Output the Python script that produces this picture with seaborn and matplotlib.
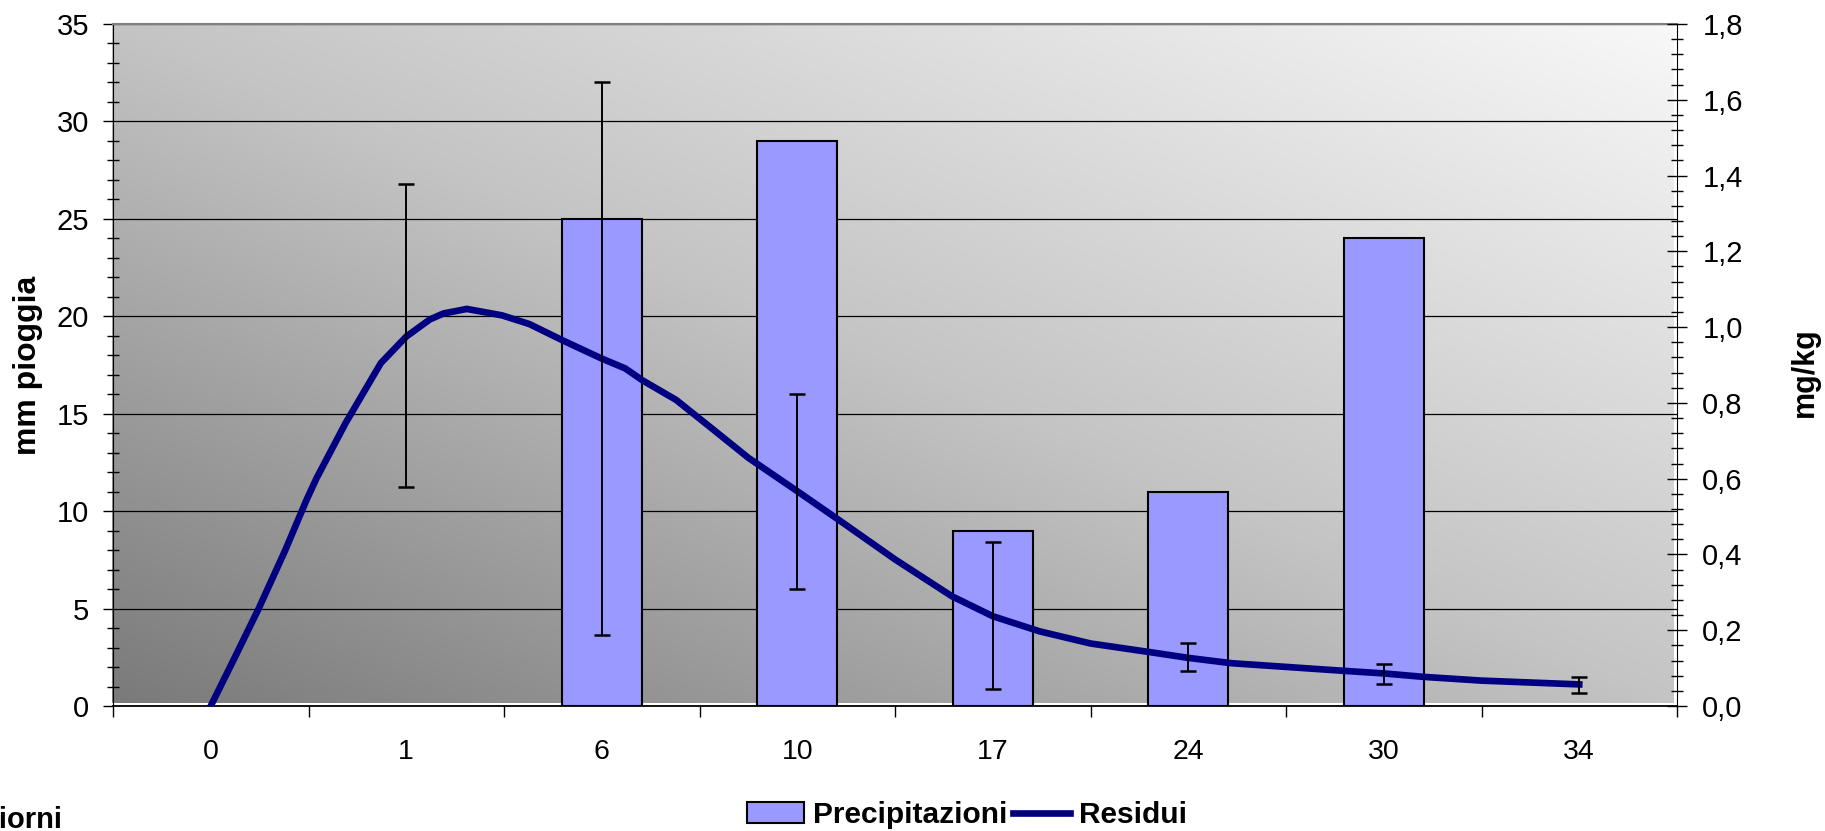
import numpy as np
import pandas as pd
import matplotlib
matplotlib.use('Agg')
import matplotlib.pyplot as plt
from matplotlib.ticker import MultipleLocator, FuncFormatter
from matplotlib.lines import Line2D
from matplotlib.patches import Patch
import seaborn as sns

# Categorie asse x (giorni)
giorni = ['0', '1', '6', '10', '17', '24', '30', '34']

# Precipitazioni (mm), solo nei giorni con pioggia
giorni_pioggia = ['6', '10', '17', '24', '30']
mm_pioggia = [25, 29, 9, 11, 24]

# Residui: curva (posizione sulla scala delle categorie, mg/kg)
res_pos = [0.0, 0.12, 0.245, 0.38, 0.49, 0.54, 0.69, 0.87, 1.0, 1.12, 1.19, 1.31,
           1.49, 1.63, 1.80, 2.0, 2.12, 2.21, 2.38, 2.55, 2.75, 3.0, 3.21, 3.5,
           3.79, 4.0, 4.24, 4.5, 4.78, 5.0, 5.22, 5.79, 6.0, 6.2, 6.5, 7.0]
res_val = [0.0, 0.125, 0.257, 0.41, 0.544, 0.60, 0.747, 0.905, 0.975, 1.02, 1.036, 1.048,
           1.031, 1.008, 0.965, 0.917, 0.891, 0.859, 0.808, 0.738, 0.655, 0.567, 0.492, 0.387,
           0.290, 0.237, 0.197, 0.165, 0.144, 0.127, 0.113, 0.093, 0.086, 0.077, 0.067, 0.057]

# Residui misurati con deviazione standard
err_pos = [1, 2, 3, 4, 5, 6, 7]
err_val = [0.977, 0.917, 0.567, 0.240, 0.129, 0.084, 0.055]
err_sd = [0.40, 0.73, 0.257, 0.194, 0.036, 0.027, 0.021]

plt.rcParams['font.family'] = ['Liberation Sans', 'DejaVu Sans']

BAR_COL = '#9999ff'
LINE_COL = '#000080'

fig = plt.figure(figsize=(18.25, 8.31), dpi=100)
rect = [113 / 1825, 125 / 831, 1564 / 1825, 682 / 831]

# sfondo sfumato (area del grafico)
bg = fig.add_axes([112 / 1825, 128 / 831, 1562 / 1825, 679 / 831], zorder=0)
u = np.linspace(0, 1, 400)
v = np.linspace(0, 1, 200)
uu, vv = np.meshgrid(u, v)
t = (uu + vv) / 2
g = np.interp(t, [0, 0.5, 1], [122, 196, 248]) / 255
bg.imshow(np.dstack([g, g, g]), origin='lower', extent=[0, 1, 0, 1], aspect='auto')
bg.axis('off')

ax = fig.add_axes(rect, zorder=1)
ax.patch.set_visible(False)

df_bar = pd.DataFrame({'giorni': giorni_pioggia, 'mm': mm_pioggia})
sns.barplot(data=df_bar, x='giorni', y='mm', order=giorni, color=BAR_COL, saturation=1,
            width=0.41, edgecolor='black', linewidth=1.5, errorbar=None, ax=ax, zorder=2)

ax2 = ax.twinx()
ax2.set_zorder(2)
ax2.patch.set_visible(False)
sns.lineplot(x=res_pos, y=res_val, ax=ax2, color=LINE_COL, linewidth=4.8, zorder=3)
ax2.errorbar(err_pos, err_val, yerr=err_sd, fmt='none', ecolor='black', elinewidth=1.4,
             capsize=5.6, capthick=1.8, zorder=4)

ax.set_xlim(-0.5, 7.5)
ax.set_ylim(0, 35)
ax2.set_ylim(0, 1.8)

# asse x
ax.set_xticks(range(len(giorni)))
ax.set_xticklabels(giorni)
ax.set_xticks(np.arange(-0.5, len(giorni), 1), minor=True)
ax.tick_params(axis='x', which='major', length=0, pad=24, labelsize=20.5)
ax.tick_params(axis='x', which='minor', direction='out', length=8, width=1)
ax.set_xlabel('')

# asse y sinistro
ax.yaxis.set_major_locator(MultipleLocator(5))
ax.yaxis.set_minor_locator(MultipleLocator(1))
ax.tick_params(axis='y', which='major', direction='out', length=7.2, width=1, pad=10, labelsize=21)
ax.tick_params(axis='y', which='minor', direction='inout', length=8.6, width=1)
ax.set_ylabel('')
ax.yaxis.grid(True, which='major', color='black', linewidth=0.9)
ax.set_axisbelow(True)

# asse y destro
ax2.yaxis.set_major_locator(MultipleLocator(0.2))
ax2.yaxis.set_minor_locator(MultipleLocator(0.04))
ax2.yaxis.set_major_formatter(FuncFormatter(lambda y, p: f'{y:.1f}'.replace('.', ',')))
ax2.tick_params(axis='y', which='major', direction='inout', length=14.8, width=1, pad=10.8, labelsize=21)
ax2.tick_params(axis='y', which='minor', direction='inout', length=9, width=1)
ax2.set_ylabel('')
ax2.set_xlabel('')

for s in ['left', 'top', 'bottom']:
    ax2.spines[s].set_visible(False)
ax.spines['right'].set_visible(False)
ax.spines['top'].set_color('#808080')
ax.spines['top'].set_linewidth(1.5)
ax.spines['left'].set_color('black')
ax.spines['bottom'].set_color('black')
ax.spines['bottom'].set_linewidth(1.3)
ax2.spines['right'].set_color('black')

# etichette assi
fig.text(28 / 1825, 1 - 365 / 831, 'mm pioggia', rotation=90, ha='center', va='center',
         fontsize=23, fontweight='bold')
fig.text(1805 / 1825, 1 - 372 / 831, 'mg/kg', rotation=90, ha='center', va='center',
         fontsize=22, fontweight='bold')
# nel riferimento "giorni" esce dal bordo sinistro
fig.text(-18 / 1825, 3 / 831, 'giorni', ha='left', va='baseline', fontsize=21, fontweight='bold')

# legenda
handles = [Patch(facecolor=BAR_COL, edgecolor='black', linewidth=1.5),
           Line2D([], [], color=LINE_COL, linewidth=4.8)]
fig.legend(handles, ['Precipitazioni', 'Residui'], loc='center', bbox_to_anchor=(0.53, 0.019),
           ncol=2, frameon=False, prop=dict(weight='bold', size=21.5), handlelength=1.9,
           handletextpad=0.3, columnspacing=0.2)

fig.savefig('out.png', dpi=100)
